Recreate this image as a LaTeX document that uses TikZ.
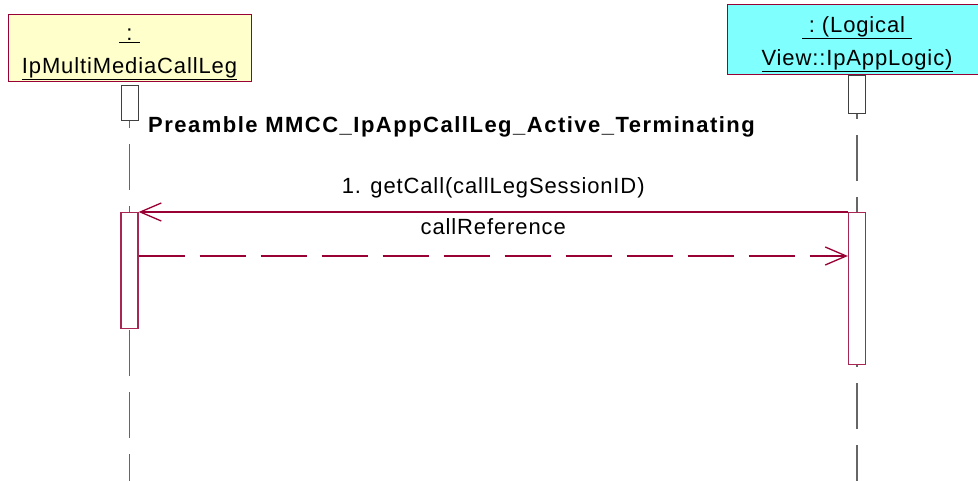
\documentclass[tikz,border=0pt]{standalone}
\usepackage{fontspec}
\setmainfont{Liberation Sans}
\newfontfamily\lblfont[LetterSpace=4]{Liberation Sans}
\newfontfamily\ttlfont[LetterSpace=6.8]{Liberation Sans}
\usetikzlibrary{arrows.meta, calc, positioning}
\definecolor{rose}{HTML}{990033}
\definecolor{lifegray}{HTML}{666666}
\definecolor{objyellow}{HTML}{FFFFCC}
\definecolor{objcyan}{HTML}{80FFFF}
\newcommand\objstrut{\rule{0pt}{24pt}}
\tikzset{
  >={Straight Barb[length=21pt, width=18pt]},
  every picture/.style={line cap=butt, line join=miter},
  obj/.style={draw=rose, line width=1pt, align=center, inner sep=0pt,
              font=\lblfont\fontsize{22}{33}\selectfont},
  focus/.style={draw=black!75, fill=white, line width=1pt, minimum width=17pt, inner sep=0pt},
  act/.style={draw=rose!85, fill=white, line width=1.3pt, minimum width=17pt, inner sep=0pt},
  life/.style={lifegray, line width=1.5pt, dash pattern=on 46pt off 16pt},
  msg/.style={->, rose, line width=1.3pt},
  ret/.style={msg, dash pattern=on 46pt off 15pt},
  mlabel/.style={anchor=base, text=black, inner sep=0pt, font=\lblfont\fontsize{22}{26}\selectfont},
}

\begin{document}
\begin{tikzpicture}[x=1pt, y=-1pt]
  \useasboundingbox (0,0) rectangle (978,481);
  \clip (0,0) rectangle (978,481);
  % objects
  \node[obj, fill=objyellow, minimum width=243pt, minimum height=67pt] (leg) at (129.5,48.5)
    {\objstrut\underline{~:~}\\\underline{IpMultiMediaCallLeg}};
  \node[obj, fill=objcyan, minimum width=260pt, minimum height=70pt] (app) at (857,40)
    {\objstrut\underline{~:~(Logical~}\\\underline{View::IpAppLogic)}};
  % lifelines
  \draw[life, dash phase=38pt] (129.5,120) -- (129.5,481);
  \draw[life, dash phase=40pt] (857,113) -- (857,481);
  % focus boxes
  \node[focus, minimum height=35pt, anchor=north] (legtop) at (129.5,85) {};
  \node[focus, minimum height=38pt, anchor=north] (apptop) at (app.south) {};
  \node[act, minimum height=116pt, anchor=north] (legact) at (129.5,212) {};
  \node[act, minimum height=152pt, anchor=north] (appact) at (857,212) {};
  % title
  \node[anchor=base west, inner sep=0pt, font=\ttlfont\bfseries\fontsize{22}{26}\selectfont] (title) at (148,133)
    {Preamble MMCC\_IpAppCallLeg\_Active\_Terminating};
  % messages
  \coordinate (back) at (0,256);
  \draw[msg] (appact.north west) -- node[mlabel, midway, yshift=18pt] (m1) {1. getCall(callLegSessionID)} (legact.north east);
  \draw[ret] (legact.east |- back) -- node[mlabel, midway, yshift=21pt] (m2) {callReference} (appact.west |- back);
\end{tikzpicture}
\end{document}
